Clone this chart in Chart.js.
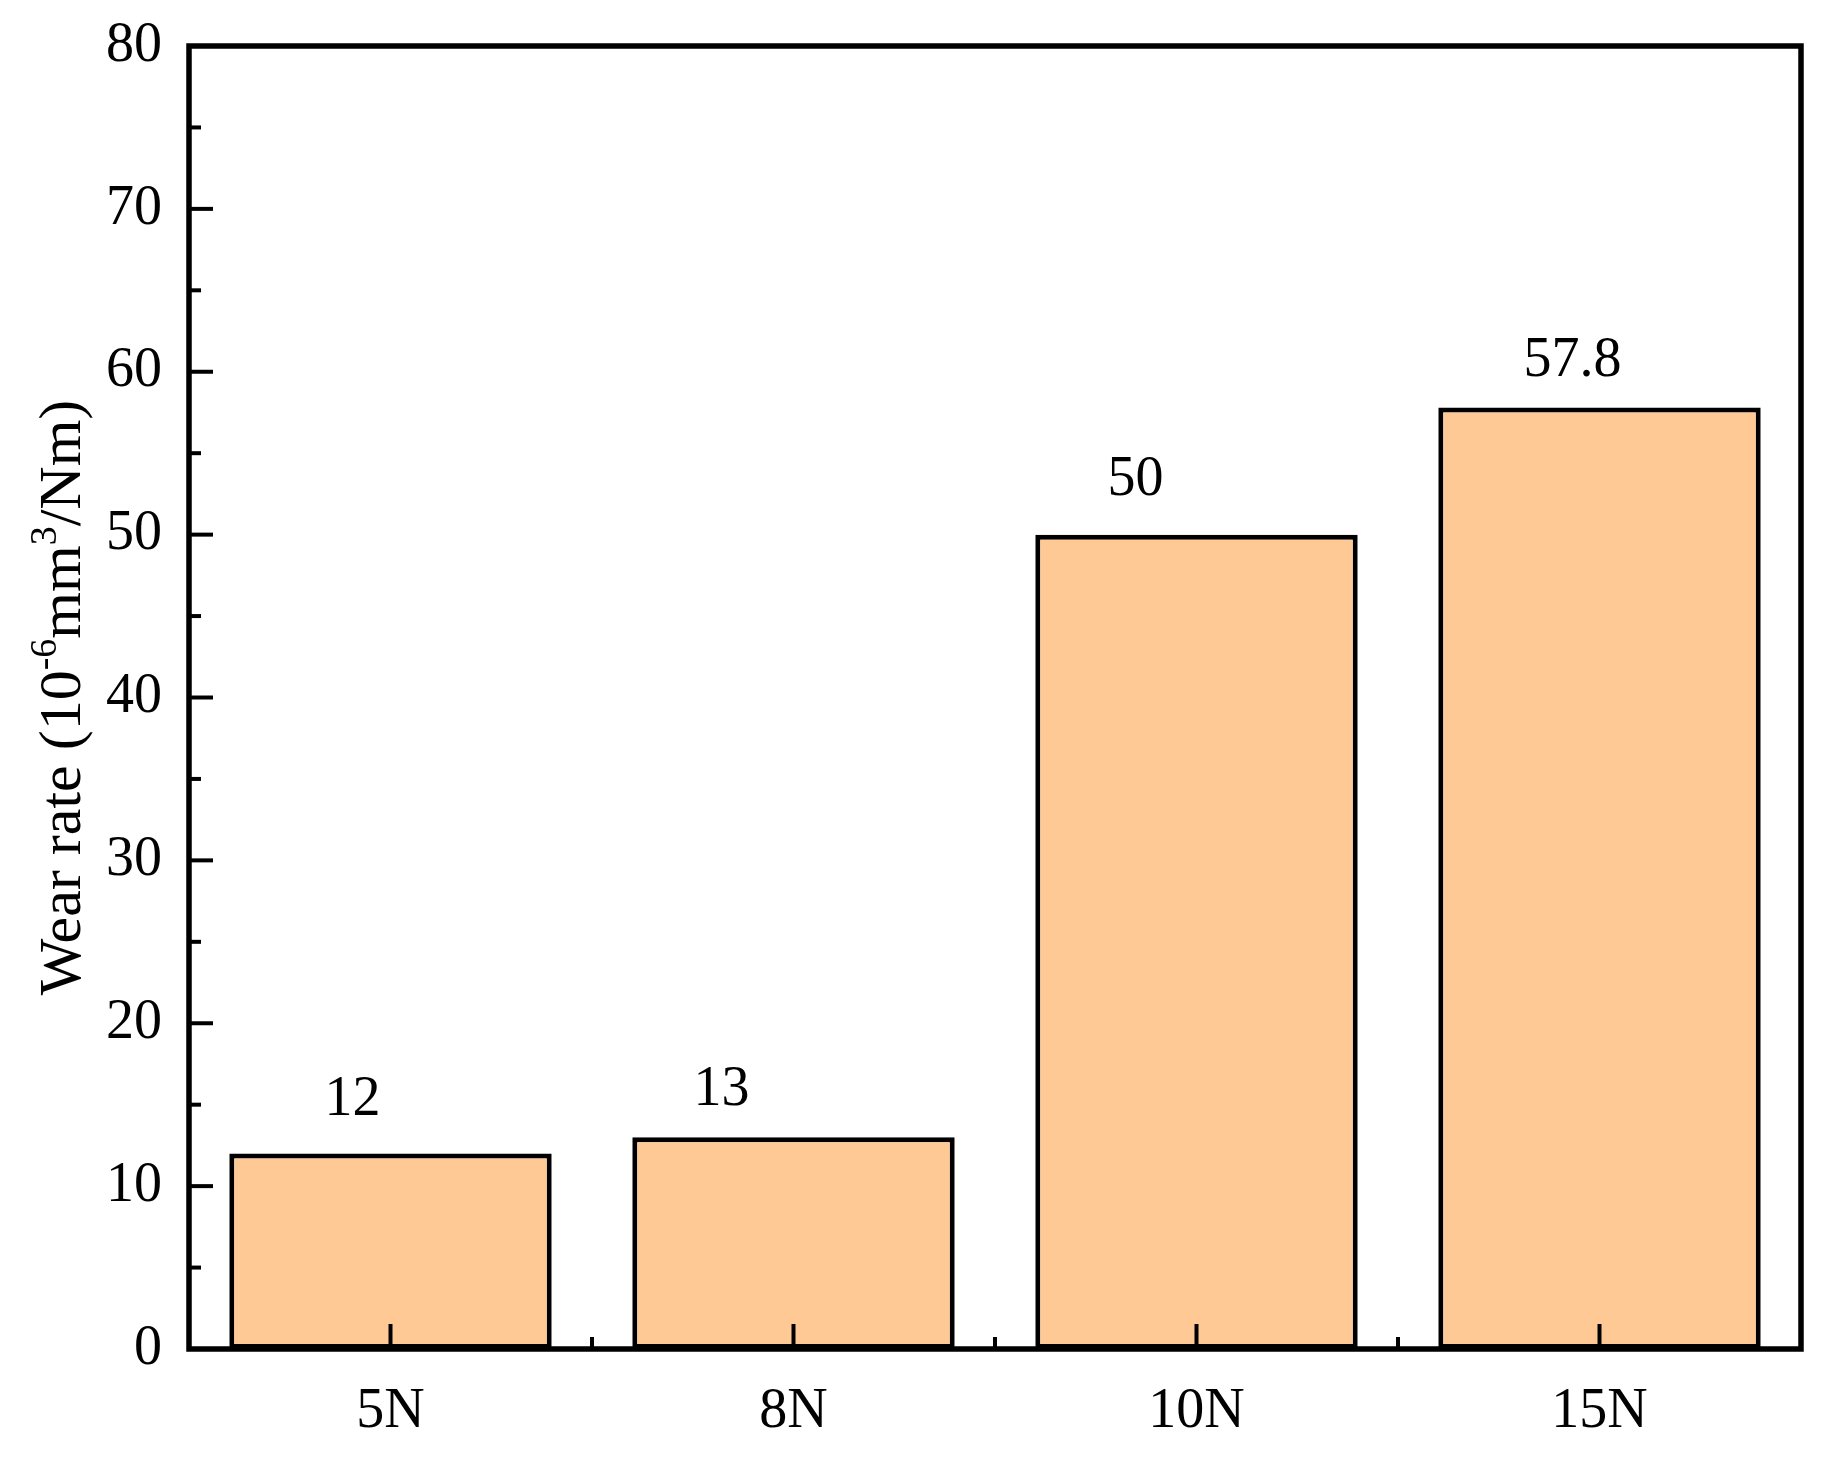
<!DOCTYPE html>
<html>
<head>
<meta charset="utf-8">
<script src="https://cdn.jsdelivr.net/npm/chart.js@4/dist/chart.umd.min.js"></script>
<style>
  html, body { margin: 0; padding: 0; background: #fff; }
  #wrap { width: 1825px; height: 1465px; position: relative; }
</style>
</head>
<body>
<div id="wrap"><canvas id="wear-chart"></canvas></div>
<script>
// Wear rate vs load
const categories = ['5N', '8N', '10N', '15N'];
const wearRate = [12, 13, 50, 57.8];
const valueLabels = ['12', '13', '50', '57.8'];
const yTickValues = [0, 10, 20, 30, 40, 50, 60, 70, 80];

// hand-placed value labels (pixels relative to bar centre / bar top)
const labelShiftX = [-38, -72, -61, -27];
const labelRise = [53, 47, 54, 46];

const FONT = '"Liberation Serif", "Times New Roman", serif';
const BAR_FILL = '#FFC996';

// frame, inward ticks, value labels and the y title
const decorPlugin = {
    id: 'decor',
    afterDatasetsDraw(chart) {
        const ctx = chart.ctx;
        const area = chart.chartArea;
        const x = chart.scales.x;
        const y = chart.scales.y;

        ctx.save();
        ctx.strokeStyle = '#000';
        ctx.lineCap = 'butt';

        // y ticks (major 10, minor 5)
        ctx.lineWidth = 4;
        for (let v = 0; v <= 80; v += 5) {
            const py = y.getPixelForValue(v);
            const len = v % 10 === 0 ? 24 : 12;
            ctx.beginPath();
            ctx.moveTo(area.left, py);
            ctx.lineTo(area.left + len, py);
            ctx.stroke();
        }

        // x ticks: major at categories, minor between
        for (let i = 0; i < categories.length; i++) {
            const px = x.getPixelForValue(i);
            ctx.beginPath();
            ctx.moveTo(px, area.bottom);
            ctx.lineTo(px, area.bottom - 25);
            ctx.stroke();
            if (i < categories.length - 1) {
                const mx = x.getPixelForValue(i + 0.5);
                ctx.beginPath();
                ctx.moveTo(mx, area.bottom);
                ctx.lineTo(mx, area.bottom - 12);
                ctx.stroke();
            }
        }

        // frame
        ctx.lineWidth = 5.5;
        ctx.strokeRect(area.left, area.top, area.right - area.left, area.bottom - area.top);

        // value labels
        ctx.fillStyle = '#000';
        ctx.font = '56px ' + FONT;
        ctx.textAlign = 'center';
        ctx.textBaseline = 'middle';
        const meta = chart.getDatasetMeta(0);
        meta.data.forEach((bar, i) => {
            ctx.fillText(valueLabels[i], bar.x + labelShiftX[i], bar.y - labelRise[i]);
        });

        // y axis title with superscripts
        const parts = [
            { t: 'Wear rate (10', sup: false },
            { t: '-6', sup: true },
            { t: 'mm', sup: false },
            { t: '3', sup: true },
            { t: '/Nm)', sup: false }
        ];
        const mainFont = '60px ' + FONT;
        const supFont = '38px ' + FONT;
        let total = 0;
        parts.forEach(p => {
            ctx.font = p.sup ? supFont : mainFont;
            p.w = ctx.measureText(p.t).width;
            total += p.w;
        });
        ctx.translate(80, (area.top + area.bottom) / 2);
        ctx.rotate(-Math.PI / 2);
        ctx.textAlign = 'left';
        ctx.textBaseline = 'alphabetic';
        let cx = -total / 2;
        parts.forEach(p => {
            ctx.font = p.sup ? supFont : mainFont;
            ctx.fillText(p.t, cx, p.sup ? -24 : 0);
            cx += p.w;
        });
        ctx.restore();
    }
};

const ctx = document.getElementById('wear-chart');
new Chart(ctx, {
    type: 'bar',
    data: {
        labels: categories,
        datasets: [{
            data: wearRate,
            backgroundColor: BAR_FILL,
            borderColor: '#000',
            borderWidth: 5,
            borderSkipped: false,
            categoryPercentage: 0.8,
            barPercentage: 1.0
        }]
    },
    options: {
        responsive: true,
        maintainAspectRatio: false,
        animation: false,
        devicePixelRatio: 1,
        layout: {
            padding: { top: 46, right: 24, left: 0, bottom: 0 }
        },
        plugins: {
            legend: { display: false },
            tooltip: { enabled: false }
        },
        scales: {
            x: {
                grid: { display: false, drawTicks: false },
                border: { display: false },
                ticks: {
                    color: '#000',
                    font: { family: FONT, size: 56 },
                    padding: 30,
                    maxRotation: 0
                },
                afterFit(scale) {
                    scale.height = 116;
                    scale.paddingLeft = 0;
                    scale.paddingRight = 0;
                }
            },
            y: {
                min: 0,
                max: 80,
                grid: { display: false, drawTicks: false },
                border: { display: false },
                ticks: {
                    color: '#000',
                    font: { family: FONT, size: 56 },
                    padding: 27,
                    stepSize: 10
                },
                afterBuildTicks(scale) {
                    scale.ticks = yTickValues.map(v => ({ value: v }));
                },
                afterFit(scale) {
                    scale.width = 189;
                    scale.paddingTop = 0;
                    scale.paddingBottom = 0;
                }
            }
        }
    },
    plugins: [decorPlugin]
});
</script>
</body>
</html>
